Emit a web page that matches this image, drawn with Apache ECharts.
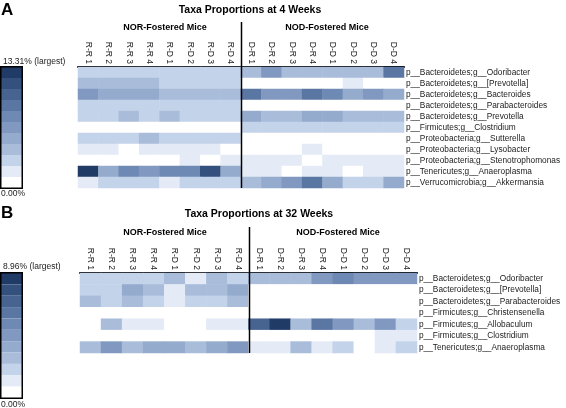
<!DOCTYPE html>
<html><head><meta charset="utf-8">
<script src="https://cdn.jsdelivr.net/npm/echarts@6/dist/echarts.min.js"></script>
<style>html,body{margin:0;padding:0;background:#fff}#c{width:566px;height:408px}</style>
</head><body><div id="c"></div>
<script>
const columns = ['R-R 1','R-R 2','R-R 3','R-R 4','R-D 1','R-D 2','R-D 3','R-D 4','D-R 1','D-R 2','D-R 3','D-R 4','D-D 1','D-D 2','D-D 3','D-D 4'];
const taxaA = ['p__Bacteroidetes;g__Odoribacter','p__Bacteroidetes;g__[Prevotella]','p__Bacteroidetes;g__Bacteroides','p__Bacteroidetes;g__Parabacteroides','p__Bacteroidetes;g__Prevotella','p__Firmicutes;g__Clostridium','p__Proteobacteria;g__Sutterella','p__Proteobacteria;g__Lysobacter','p__Proteobacteria;g__Stenotrophomonas','p__Tenericutes;g__Anaeroplasma','p__Verrucomicrobia;g__Akkermansia'];
const taxaB = ['p__Bacteroidetes;g__Odoribacter','p__Bacteroidetes;g__[Prevotella]','p__Bacteroidetes;g__Parabacteroides','p__Firmicutes;g__Christensenella','p__Firmicutes;g__Allobaculum','p__Firmicutes;g__Clostridium','p__Tenericutes;g__Anaeroplasma'];
// percent values, rows = taxa, columns = mice (NOR then NOD)
const valuesA = [
 [3.0,3.1,2.9,3.0,3.0,3.1,2.9,3.0, 4.3,6.6,4.2,4.4,4.3,4.0,4.1,9.2],
 [4.4,4.3,3.9,3.8,2.9,3.4,3.3,3.1, 0,0,0,0,0,1.3,0,0],
 [6.7,4.9,5.3,5.1,4.6,4.5,4.2,4.1, 8.8,6.6,6.5,8.6,7.6,5.4,7.1,5.3],
 [3.0,3.0,3.1,2.9,3.0,2.9,3.0,3.0, 0,0,0,0,0,0,0,0],
 [3.1,3.2,4.0,3.0,3.9,3.5,3.0,3.1, 6.0,4.2,4.1,5.3,4.9,3.9,4.0,4.8],
 [0,0,0,0,0,0,0,0, 3.0,3.0,3.1,3.0,2.9,3.0,3.0,3.0],
 [3.2,3.6,3.1,3.7,3.1,3.0,3.2,3.2, 0,0,0,0,0,0,0,0],
 [1.4,1.4,0,1.5,1.4,1.4,1.4,0, 0,0,0,1.3,0,0,0,0],
 [0,0,0,0,0,1.3,0,1.4, 1.3,1.4,1.3,0,1.3,1.3,1.3,1.3],
 [13.31,5.6,7.3,7.0,7.6,7.7,11.6,5.4, 1.3,1.3,0,1.3,1.9,0,1.3,1.3],
 [1.8,3.0,3.1,3.0,2.2,2.9,2.9,3.0, 4.3,5.8,6.8,9.4,5.7,3.0,3.1,5.3]
];
const valuesB = [
 [2.3,2.3,2.1,2.4,2.6,1.6,2.5,2.1, 2.5,3.1,3.0,4.7,5.6,4.3,4.2,4.3],
 [2.1,2.2,3.5,3.0,1.0,2.9,2.6,3.3, 0,0,0,0,0,0,0,0],
 [2.5,2.4,3.2,2.0,1.2,1.7,2.4,2.9, 0,0,0,0,0,0,0,0],
 [0,0,0,0,0,0,0,0, 0,0,0,0,0,0,0,0],
 [0,2.6,0.9,1.4,0,0,0.9,1.0, 7.3,8.96,2.7,6.2,4.4,3.2,4.8,2.3],
 [0,0,0,0,0,0,0,0, 0,0,0,0,0,0,1.0,0.9],
 [2.8,4.3,2.8,3.8,3.9,2.8,3.9,4.2, 1.2,1.3,2.7,1.1,2.1,0,1.5,2.3]
];
const maxA = 13.31, maxB = 8.96;
const palette = ['#ffffff','#e4ebf6','#c3d3ea','#a9bddb','#94abcd','#8199c0','#6e89b3','#5a76a2','#476490','#34517d','#1f3b66'];

function toData(vals){const d=[];vals.forEach((row,r)=>row.forEach((v,c)=>d.push([c,r,v])));return d;}

const FONT = 'Liberation Sans';
const grids = [
  {left:78, top:67, width:326, height:121},
  {left:80, top:273, width:337, height:80}
];
function xAx(i){return {type:'category',gridIndex:i,data:columns,position:'top',
  axisLine:{lineStyle:{color:'#000',width:2}},
  axisTick:{alignWithLabel:true,length:3,lineStyle:{color:'#555'}},
  axisLabel:{rotate:90,fontSize:8.5,color:'#222',fontFamily:FONT,margin:3,interval:0},splitLine:{show:false}};}
function yAx(i,t){return {type:'category',gridIndex:i,data:t,inverse:true,position:'right',
  axisLine:{show:false},axisTick:{show:false},
  axisLabel:{fontSize:8.3,color:'#222',fontFamily:FONT,margin:2,interval:0},splitLine:{show:false}};}
function ttl(text,left,top,size,bold,center){
  const o={text,left,top,padding:0,textStyle:{fontSize:size,fontWeight:bold?'bold':'normal',color:bold?'#000':'#222',fontFamily:FONT}};
  if(center) o.textAlign='center';
  return o;
}

const chart = echarts.init(document.getElementById('c'));
chart.setOption({
  animation:false,
  backgroundColor:'#fff',
  textStyle:{fontFamily:FONT},
  title:[
    ttl('A',1,2,17,true),
    ttl('B',1,205,17,true),
    ttl('Taxa Proportions at 4 Weeks',250,5,10.5,true,true),
    ttl('Taxa Proportions at 32 Weeks',259,209,10.5,true,true),
    ttl('NOR-Fostered Mice',165,23,9,true,true),
    ttl('NOD-Fostered Mice',327,23,9,true,true),
    ttl('NOR-Fostered Mice',165,228,9,true,true),
    ttl('NOD-Fostered Mice',338,228,9,true,true),
    ttl(maxA.toFixed(2)+'% (largest)',3,57,8.5,false),
    ttl('0.00%',1,189,8.5,false),
    ttl(maxB.toFixed(2)+'% (largest)',3,262,8.5,false),
    ttl('0.00%',1,400,8.5,false)
  ],
  grid:grids,
  xAxis:[xAx(0),xAx(1)],
  yAxis:[yAx(0,taxaA),yAx(1,taxaB)],
  visualMap:[
    {type:'piecewise',seriesIndex:0,min:0,max:maxA,splitNumber:11,left:1,top:67,padding:0,
     itemWidth:21,itemHeight:11,itemGap:0,itemSymbol:'rect',showLabel:false,hoverLink:false,selectedMode:false,
     inRange:{color:palette}},
    {type:'piecewise',seriesIndex:1,min:0,max:maxB,splitNumber:11,left:1,top:273,padding:0,
     itemWidth:21,itemHeight:125/11,itemGap:0,itemSymbol:'rect',showLabel:false,hoverLink:false,selectedMode:false,
     inRange:{color:palette}}
  ],
  series:[
    {type:'heatmap',xAxisIndex:0,yAxisIndex:0,data:toData(valuesA),itemStyle:{borderWidth:0}},
    {type:'heatmap',xAxisIndex:1,yAxisIndex:1,data:toData(valuesB),itemStyle:{borderWidth:0}}
  ]
});

// divider lines between the two groups, positioned via the axis scales
function divider(gi, topY){
  const a = chart.convertToPixel({xAxisIndex:gi}, columns[7]);
  const b = chart.convertToPixel({xAxisIndex:gi}, columns[8]);
  const x = Math.round((a+b)/2)+0.5;
  const g = grids[gi];
  return {type:'line',shape:{x1:x,y1:topY,x2:x,y2:g.top+g.height},style:{stroke:'#000',lineWidth:1.5},z:100};
}
chart.setOption({graphic:[
  divider(0,22), divider(1,227),
  {type:'rect',shape:{x:0.75,y:66.75,width:21.5,height:121.5},style:{fill:'none',stroke:'#000',lineWidth:1.5},z:100},
  {type:'rect',shape:{x:0.75,y:272.75,width:21.5,height:125.5},style:{fill:'none',stroke:'#000',lineWidth:1.5},z:100}
]});
</script></body></html>
